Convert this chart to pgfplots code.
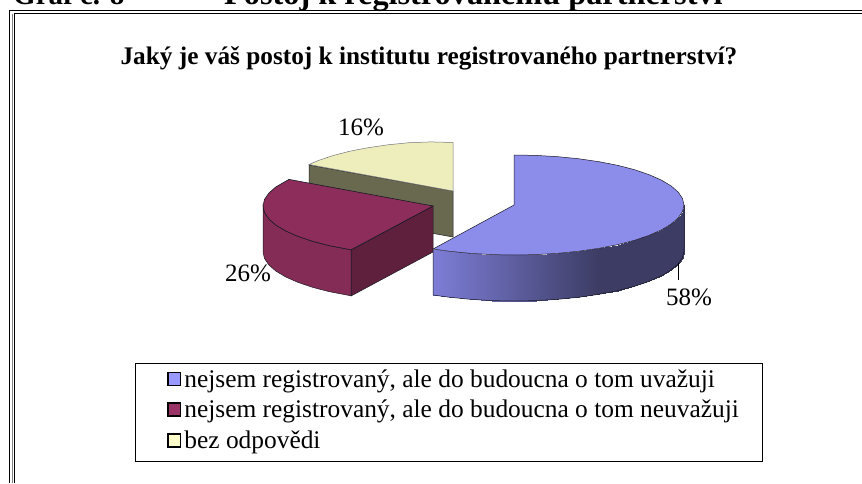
\documentclass[border=0pt]{standalone}
\usepackage{pgfplots}
\pgfplotsset{compat=1.18}
\usepackage{fontspec}
\setmainfont{Liberation Serif}
\definecolor{bluetop}{RGB}{140,140,235}
\definecolor{redtop}{RGB}{140,45,92}
\definecolor{redside}{RGB}{132,44,86}
\definecolor{yeltop}{RGB}{238,238,188}
\definecolor{olive}{RGB}{105,105,80}
\definecolor{reddark}{RGB}{95,32,62}
\definecolor{edge}{RGB}{25,25,35}
\begin{document}
\begin{tikzpicture}[x=1pt,y=1pt]
\path[use as bounding box] (0,0) rectangle (862,483);
\clip (0,0) rectangle (862,483);
\begin{axis}[at={(0,0)},anchor=south west,scale only axis,width=862pt,height=483pt,
  xmin=0,xmax=862,ymin=0,ymax=483,y dir=reverse,hide axis,clip=false,
  legend style={at={(axis cs:135,363)},anchor=north west,draw=black,line width=0.8pt,
    inner xsep=10pt,inner ysep=4pt,font=\fontsize{25.4}{30}\selectfont,
    cells={anchor=west},row sep=7.5pt},
  legend cell align=left
]
\addlegendimage{legend image code/.code={\path[draw=none] (0pt,0pt) -- (37pt,0pt);\draw[black,line width=1.8pt,fill={rgb,255:red,153;green,153;blue,255}] (22.5pt,-6.5pt) rectangle (35pt,6.5pt);}}
\addlegendentry{nejsem registrovaný, ale do budoucna o tom uvažuji}
\addlegendimage{legend image code/.code={\path[draw=none] (0pt,0pt) -- (37pt,0pt);\draw[black,line width=1.8pt,fill={rgb,255:red,153;green,51;blue,102}] (22.5pt,-6.5pt) rectangle (35pt,6.5pt);}}
\addlegendentry{nejsem registrovaný, ale do budoucna o tom neuvažuji\rule{12pt}{0pt}}
\addlegendimage{legend image code/.code={\path[draw=none] (0pt,-17pt) -- (37pt,0pt);\draw[black,line width=1.8pt,fill={rgb,255:red,255;green,255;blue,204}] (22.5pt,-6.5pt) rectangle (35pt,6.5pt);}}
\addlegendentry{bez odpovědi}

% frame (double rule)
\addplot[black,line width=1pt,forget plot] coordinates {(9,483)(9,10)(862,10)};
\addplot[gray,line width=1pt,forget plot] coordinates {(12.5,483)(12.5,13.5)};
\addplot[black,line width=1pt,forget plot] coordinates {(14.3,483)(14.3,13.5)(862,13.5)};

% yellow slice, 16 %
\addplot[fill=olive,draw=edge,line width=0.5pt,forget plot] coordinates {(309,165)(453,191)(453,237)(309,211)} --cycle;
\addplot[fill=yeltop,draw=edge!60!white,line width=0.5pt,forget plot] coordinates {(453,191)(309,164.5)(318.1,160.6)(332.8,155.6)(349.5,151.3)(368,147.7)(387.9,144.8)(409,142.7)(430.8,141.9)(453,142.5)} --cycle;

% red slice, 26 %
\addplot[fill=reddark,draw=edge,line width=0.5pt,forget plot] coordinates {(351,250)(433,206)(433,252)(351,296)} --cycle;
\addplot[fill=redside,draw=edge,line width=0.5pt,forget plot] coordinates {(263,206)(264.5,212.5)(268.8,218.9)(275.9,225.1)(285.8,231)(298.1,236.4)(312.8,241.4)(329.5,245.7)(351,249.8)(351,295.8)(329.5,291.7)(312.8,287.4)(298.1,282.4)(285.8,277)(275.9,271.1)(268.8,264.9)(264.5,258.5)(263,252)} --cycle;
\addplot[fill=redtop,draw=edge,line width=0.6pt,forget plot] coordinates {(433,206)(289,179.4)(275.9,186.9)(268.8,193.1)(264.5,199.5)(263,206)(264.5,212.5)(268.8,218.9)(275.9,225.1)(285.8,231)(298.1,236.4)(312.8,241.4)(329.5,245.7)(351,249.8)} --cycle;

% blue slice, 58 %: shaded side
\addplot[patch,patch type=rectangle,shader=interp,forget plot,
  colormap={sideblue}{rgb255=(60,60,100) rgb255=(125,125,215)},
  point meta=explicit,point meta min=0,point meta max=1] table[meta=m] {
x y m
433 249 1
448.9 251.2 .905
448.9 297.2 .905
433 295 1
448.9 251.2 .905
470 253.3 .78
470 299.3 .78
448.9 297.2 .905
470 253.3 .78
491.8 254.6 .65
491.8 300.6 .65
470 299.3 .78
491.8 254.6 .65
514 255 .515
514 301 .515
491.8 300.6 .65
514 255 .515
536.2 254.6 .38
536.2 300.6 .38
514 301 .515
536.2 254.6 .38
558 253.3 .25
558 299.3 .25
536.2 300.6 .38
558 253.3 .25
579.1 251.2 .125
579.1 297.2 .125
558 299.3 .25
579.1 251.2 .125
599 248.3 0
599 294.3 0
579.1 297.2 .125
599 248.3 0
617.5 244.7 0
617.5 290.7 0
599 294.3 0
617.5 244.7 0
634.2 240.4 0
634.2 286.4 0
617.5 290.7 0
634.2 240.4 0
648.9 235.4 0
648.9 281.4 0
634.2 286.4 0
648.9 235.4 0
661.2 230 0
661.2 276 0
648.9 281.4 0
661.2 230 0
671.1 224.1 0
671.1 270.1 0
661.2 276 0
671.1 224.1 0
678.2 217.9 0
678.2 263.9 0
671.1 270.1 0
678.2 217.9 0
682.5 211.5 0
682.5 257.5 0
678.2 263.9 0
682.5 211.5 0
684 205 0
684 251 0
682.5 257.5 0
};
\addplot[draw=edge,line width=0.5pt,forget plot] coordinates {(433,249)(433,295)(448.9,297.2)(470,299.3)(491.8,300.6)(514,301)(536.2,300.6)(558,299.3)(579.1,297.2)(599,294.3)(617.5,290.7)(634.2,286.4)(648.9,281.4)(661.2,276)(671.1,270.1)(678.2,263.9)(682.5,257.5)(684,251)(684,205)};
\addplot[fill=bluetop,draw=edge,line width=0.5pt,forget plot] coordinates {(514,205)(514,155)(536.2,155.4)(558,156.7)(579.1,158.8)(599,161.7)(617.5,165.3)(634.2,169.6)(648.9,174.6)(661.2,180)(671.1,185.9)(678.2,192.1)(682.5,198.5)(684,205)(682.5,211.5)(678.2,217.9)(671.1,224.1)(661.2,230)(648.9,235.4)(634.2,240.4)(617.5,244.7)(599,248.3)(579.1,251.2)(558,253.3)(536.2,254.6)(514,255)(491.8,254.6)(470,253.3)(448.9,251.2)(433,249)} --cycle;

% leader line
\addplot[black,line width=1pt,forget plot] coordinates {(678,263)(678,280)};

% texts
\node[font=\fontsize{25}{30}\selectfont,anchor=base] at (axis cs:361,135) {16\%};
\node[font=\fontsize{25}{30}\selectfont,anchor=base] at (axis cs:248,281) {26\%};
\node[font=\fontsize{25}{30}\selectfont,anchor=base] at (axis cs:689,305) {58\%};
\node[font=\fontsize{25.3}{30}\bfseries,anchor=base] at (axis cs:429,64) {Jaký je váš postoj k institutu registrovaného partnerství?};
\node[font=\fontsize{29}{30}\bfseries,anchor=base west,inner sep=0pt] at (axis cs:13,4) {Graf č. 8};
\node[font=\fontsize{32.3}{30}\bfseries,anchor=base west,inner sep=0pt] at (axis cs:224,4) {Postoj k registrovanému partnerství};
\end{axis}
\end{tikzpicture}
\end{document}
